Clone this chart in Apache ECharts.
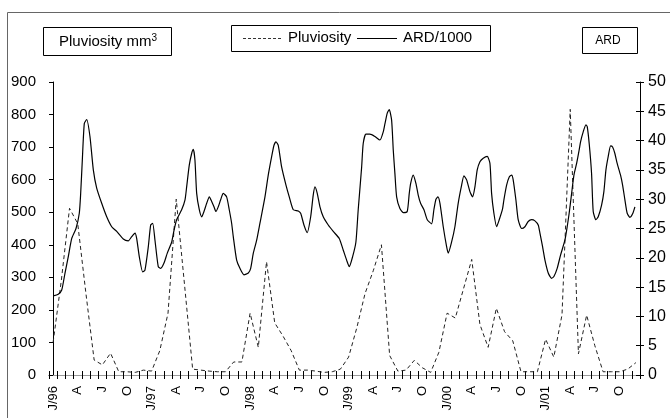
<!DOCTYPE html>
<html>
<head>
<meta charset="utf-8">
<script src="https://cdn.jsdelivr.net/npm/echarts@6/dist/echarts.min.js"></script>
<style>
html,body{margin:0;padding:0;background:#fff;}
#chart{width:670px;height:418px;}
</style>
</head>
<body>
<div id="chart"></div>
<script>
// ---- data ----
const years = ['96','97','98','99','00','01'];
const monthLetters = ['J','F','M','A','M','J','J','A','S','O','N','D'];
const categories = [];
years.forEach(y => monthLetters.forEach((m, i) => categories.push(i === 0 ? m + '/' + y : m)));

// Pluviosity (mm3), monthly, left axis
const pluviosity = [
  100,290,512,465,250,46,31,67,10,10,8,15,
  12,75,190,540,280,18,15,12,10,10,40,40,
  190,85,348,160,120,75,15,15,12,8,10,18,
  55,145,250,320,400,60,12,15,45,22,8,70,
  190,175,265,355,155,85,205,133,105,10,10,10,
  110,55,185,816,65,184,90,10,10,10,18,38
];

// ARD/1000 (right axis): position in months since J/96, and value
const ardMonth = [0,0.63,1.05,1.45,1.85,2.27,2.79,3.19,3.36,3.56,
3.80,4.09,4.49,4.90,5.31,5.92,6.53,7.14,7.75,8.55,
9.16,9.57,9.98,10.18,10.50,10.91,11.19,11.60,11.89,12.13,
12.41,12.81,13.11,13.51,13.91,14.45,14.73,15.05,15.66,16.07,
16.27,16.59,16.88,17.08,17.28,17.49,17.81,18.10,18.38,18.71,
19.03,19.32,19.60,19.84,20.12,20.41,20.73,21.14,21.46,21.75,
21.95,22.36,22.76,23.25,23.78,24.07,24.39,24.80,25.20,25.81,
26.21,26.63,26.91,27.15,27.43,27.84,28.37,28.77,29.26,29.87,
30.16,30.56,30.96,31.38,31.69,31.90,32.18,32.51,32.91,33.52,
34.13,34.86,35.35,35.76,36.08,36.49,36.89,37.17,37.59,37.78,
38.11,38.60,39.21,39.82,40.22,40.43,40.71,40.95,41.24,41.44,
41.64,41.85,42.25,42.66,43.14,43.39,43.56,43.87,44.20,44.48,
44.77,45.18,45.58,46.11,46.39,46.64,46.88,47.13,47.53,47.94,
48.14,48.55,48.95,49.35,49.77,50.05,50.38,50.78,51.11,51.39,
51.67,52.00,52.40,52.89,53.22,53.42,53.70,54.03,54.35,54.76,
54.92,55.25,55.57,55.86,56.05,56.38,56.66,57.08,57.48,57.88,
58.30,58.70,59.10,59.31,59.63,59.92,60.32,60.73,61.01,61.41,
61.83,62.35,62.63,62.87,63.17,63.45,63.78,64.09,64.26,64.58,
64.91,65.07,65.31,65.60,65.80,66.13,66.41,66.82,67.10,67.35,
67.63,67.92,68.16,68.44,68.72,69.13,69.38,69.66,69.94,70.27,
70.60,70.88];
const ardValue = [13.5,13.8,14.5,17.4,20.2,23.3,25.0,27.6,31.0,36.7,
42.9,43.6,40.7,35.0,31.9,29.3,27.0,25.3,24.5,23.2,
22.9,23.6,24.2,23.3,20.2,17.6,17.9,21.9,25.6,25.9,
23.0,18.5,18.2,19.1,20.8,22.7,24.7,26.5,28.2,29.9,
32.1,35.8,37.8,38.5,36.7,31.0,28.2,27.0,27.9,29.3,
30.4,29.6,28.7,27.9,28.7,29.9,31.0,30.4,28.2,25.9,
23.6,19.6,18.2,17.1,17.4,18.2,20.8,23.0,25.9,30.4,
34.1,37.3,39.2,39.8,39.2,35.5,32.4,30.4,28.2,28.0,
27.6,25.6,24.3,27.0,30.7,32.1,31.0,28.7,27.0,25.6,
24.5,23.3,21.3,19.6,18.5,20.2,22.7,28.2,35.5,39.5,
41.1,41.1,40.7,40.1,41.5,42.9,44.7,45.3,43.5,38.4,
34.4,30.4,28.4,27.7,27.9,31.0,32.7,34.1,32.7,30.7,
29.3,28.2,26.5,25.8,28.2,30.0,30.4,29.3,25.3,21.9,
20.8,22.7,25.3,29.3,32.4,34.0,33.3,31.3,30.4,32.1,
35.0,36.4,37.0,37.3,36.1,31.0,27.6,25.3,26.5,28.4,
29.9,32.4,33.8,34.1,33.3,29.9,26.5,25.0,25.3,26.2,
26.5,26.3,25.6,24.2,21.9,19.6,17.4,16.5,16.8,18.2,
20.5,23.0,25.3,27.6,31.0,34.1,36.1,38.4,39.8,41.5,
42.7,42.4,39.5,34.4,27.9,26.5,27.0,29.0,31.3,35.0,
37.3,39.1,38.9,37.8,36.1,34.1,32.4,29.9,27.6,26.9,
27.5,28.7];

const leftAxis = {min: 0, max: 900, interval: 100};
const rightAxis = {min: 0, max: 50, interval: 5};

// ---- chart ----
const FONT = '"Liberation Sans", Arial, sans-serif';
const chart = echarts.init(document.getElementById('chart'), null, {renderer: 'canvas'});

const baseY = (cfg, pos) => ({
  type: 'value', position: pos, min: cfg.min, max: cfg.max, interval: cfg.interval,
  splitLine: {show: false}
});
const isYear = v => v.indexOf('/') >= 0;

chart.setOption({
  animation: false,
  backgroundColor: '#fff',
  grid: {left: 49, right: 30, top: 82, bottom: 43, containLabel: false},
  xAxis: [
    { // main axis: line, outward ticks, year labels
      type: 'category', data: categories, boundaryGap: true, position: 'bottom',
      axisLine: {show: true, lineStyle: {color: '#000', width: 1}},
      axisTick: {show: true, interval: 0, length: 4, lineStyle: {color: '#000'}},
      axisLabel: {interval: 2, rotate: 90, margin: 11, fontSize: 13, color: '#000', fontFamily: FONT,
                  formatter: v => isYear(v) ? v : ''},
      splitLine: {show: false}
    },
    {type: 'value', min: -0.5, max: 71.5, show: false},
    { // inward ticks + month letters
      type: 'category', data: categories, boundaryGap: true, position: 'bottom',
      axisLine: {show: false},
      axisTick: {show: true, inside: true, interval: 0, length: 4, lineStyle: {color: '#000'}},
      axisLabel: {interval: 2, rotate: 90, margin: 11, fontSize: 13, color: '#000', fontFamily: FONT,
                  padding: [8, 0, 0, 0],
                  formatter: v => isYear(v) ? '' : v},
      splitLine: {show: false}
    },
    { // top frame line
      type: 'category', data: categories, boundaryGap: true, position: 'top',
      axisLine: {show: true, lineStyle: {color: '#999', width: 1}},
      axisTick: {show: false}, axisLabel: {show: false}, splitLine: {show: false}
    }
  ],
  yAxis: [
    Object.assign(baseY(leftAxis, 'left'), {
      axisLine: {show: true, lineStyle: {color: '#000', width: 1}},
      axisTick: {show: true, length: 4, lineStyle: {color: '#000'}},
      axisLabel: {fontSize: 15, margin: 13, color: '#000', fontFamily: FONT}
    }),
    Object.assign(baseY(rightAxis, 'right'), {
      axisLine: {show: true, lineStyle: {color: '#000', width: 1}},
      axisTick: {show: true, length: 4, lineStyle: {color: '#000'}},
      axisLabel: {fontSize: 16, margin: 8, color: '#000', fontFamily: FONT}
    }),
    Object.assign(baseY(leftAxis, 'left'), {
      axisLine: {show: false},
      axisTick: {show: true, inside: true, length: 4, lineStyle: {color: '#000'}},
      axisLabel: {show: false}
    }),
    Object.assign(baseY(rightAxis, 'right'), {
      axisLine: {show: false},
      axisTick: {show: true, inside: true, length: 4, lineStyle: {color: '#000'}},
      axisLabel: {show: false}
    })
  ],
  series: [
    {
      name: 'Pluviosity', type: 'line', xAxisIndex: 0, yAxisIndex: 0,
      data: pluviosity, symbol: 'none', showSymbol: false, smooth: false,
      lineStyle: {color: '#222', width: 1, type: [4, 3]},
      itemStyle: {color: '#222'}
    },
    {
      name: 'ARD/1000', type: 'line', xAxisIndex: 1, yAxisIndex: 1,
      data: ardMonth.map((m, i) => [m, ardValue[i]]),
      symbol: 'none', showSymbol: false, smooth: 0.2,
      lineStyle: {color: '#000', width: 1.2},
      itemStyle: {color: '#000'}
    }
  ],
  graphic: [
    {type: 'rect', silent: true, z: -10, shape: {x: 7.5, y: 12.5, width: 700, height: 450},
     style: {fill: 'none', stroke: '#666', lineWidth: 1}},
    // left header box
    {type: 'rect', silent: true, shape: {x: 43.5, y: 27.5, width: 128, height: 28},
     style: {fill: '#fff', stroke: '#000', lineWidth: 1}},
    {type: 'text', silent: true, x: 108, y: 42,
     style: {text: 'Pluviosity mm{sup|3}', fontSize: 15, fontFamily: FONT, fill: '#000',
             rich: {sup: {fontSize: 10, fontFamily: FONT, fill: '#000', color: '#000', padding: [0, 0, 8, 0]}},
             align: 'center', verticalAlign: 'middle', textAlign: 'center', textVerticalAlign: 'middle'}},
    // legend box
    {type: 'rect', silent: true, shape: {x: 231.5, y: 25.5, width: 259, height: 26},
     style: {fill: '#fff', stroke: '#000', lineWidth: 1}},
    {type: 'line', silent: true, shape: {x1: 243, y1: 38.5, x2: 283, y2: 38.5},
     style: {stroke: '#333', lineWidth: 1, lineDash: [3, 2]}},
    {type: 'text', silent: true, x: 288, y: 38,
     style: {text: 'Pluviosity', fontSize: 15, fontFamily: FONT, fill: '#000',
             align: 'left', verticalAlign: 'middle', textAlign: 'left', textVerticalAlign: 'middle'}},
    {type: 'line', silent: true, shape: {x1: 357, y1: 38.5, x2: 397, y2: 38.5},
     style: {stroke: '#000', lineWidth: 1}},
    {type: 'text', silent: true, x: 403, y: 38,
     style: {text: 'ARD/1000', fontSize: 15, fontFamily: FONT, fill: '#000',
             align: 'left', verticalAlign: 'middle', textAlign: 'left', textVerticalAlign: 'middle'}},
    // right header box
    {type: 'rect', silent: true, shape: {x: 582.5, y: 27.5, width: 55, height: 26},
     style: {fill: '#fff', stroke: '#000', lineWidth: 1}},
    {type: 'text', silent: true, x: 608, y: 41,
     style: {text: 'ARD', fontSize: 12, fontFamily: FONT, fill: '#000',
             align: 'center', verticalAlign: 'middle', textAlign: 'center', textVerticalAlign: 'middle'}}
  ]
});
</script>
</body>
</html>
